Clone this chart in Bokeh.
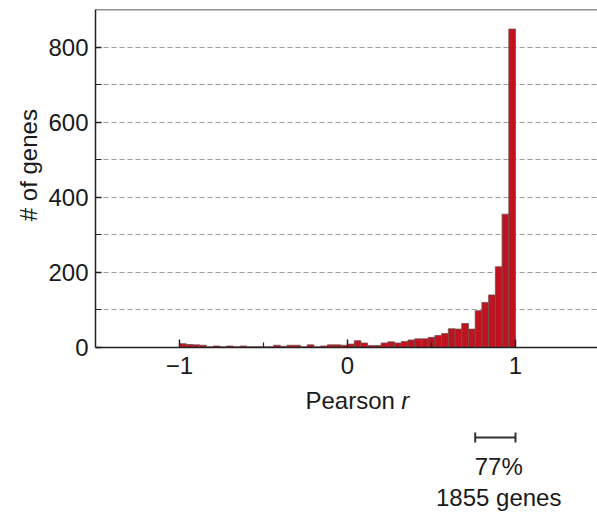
from bokeh.plotting import figure
from bokeh.layouts import column
from bokeh.models import FixedTicker, Range1d, Span, Arrow, TeeHead, ColumnDataSource
from bokeh.core.properties import value
from bokeh.embed import file_html
from bokeh.resources import INLINE

# Histogram of per-gene Pearson correlations: 50 bins of width 0.04 from -1 to 1
bin_start = -1.0
bin_width = 0.04
counts = [
    10, 8, 7, 6, 2, 4, 2, 4, 2, 4, 2, 2, 2, 2, 6, 3, 6, 6, 2, 7, 2, 4, 7, 7, 6,
    9, 18, 12, 5, 5, 12, 15, 12, 16, 20, 23, 23, 27, 32, 37, 50, 49, 64, 49,
    98, 120, 140, 215, 355, 848,
]

# Axis ticks
x_major = [-1, 0, 1]
x_minor = [-0.5, 0.5]
y_major = [0, 200, 400, 600, 800]
y_minor = [100, 300, 500, 700]
grid_lines = [100, 200, 300, 400, 500, 600, 700, 800]

# Highly correlated bracket
bracket_range = [0.76, 1.0]
bracket_pct = "77%"
bracket_genes = "1855 genes"

left_edges = [bin_start + i * bin_width for i in range(len(counts))]
right_edges = [e + bin_width for e in left_edges]
src = ColumnDataSource(dict(left=left_edges, right=right_edges, top=counts))

FONT = "Liberation Sans"
INK = "#1a1a1a"
FS = "24px"

TOP_H = 387
BOTTOM_H = 516 - TOP_H

p = figure(
    width=597, height=TOP_H,
    x_range=Range1d(-1.5, 1.488), y_range=Range1d(0, 900),
    output_backend="svg", toolbar_location=None,
    min_border_left=95, min_border_right=0, min_border_top=9, min_border_bottom=TOP_H - 347,
)
p.outline_line_color = None

p.quad(left="left", right="right", bottom=0, top="top", source=src,
       fill_color="#c1121f", line_color="#6e5050", line_width=0.8)

# Grid
p.xgrid.visible = False
p.ygrid.ticker = FixedTicker(ticks=grid_lines)
p.ygrid.grid_line_color = "#9a9a9a"
p.ygrid.grid_line_dash = "5 3"
p.ygrid.grid_line_width = 1

# Axes
for ax in (p.xaxis[0], p.yaxis[0]):
    ax.axis_line_color = "#222222"
    ax.axis_line_width = 1.5
    ax.major_tick_line_color = "#222222"
    ax.minor_tick_line_color = "#222222"
    ax.major_tick_line_width = 1.5
    ax.minor_tick_line_width = 1.2
    ax.major_tick_out = 0
    ax.minor_tick_out = 0
    ax.major_label_text_font = FONT
    ax.major_label_text_font_size = FS
    ax.major_label_text_color = INK

p.xaxis.ticker = FixedTicker(ticks=x_major, minor_ticks=x_minor)
p.xaxis.major_label_overrides = {-1: "\u22121"}
p.xaxis.major_tick_in = 8
p.xaxis.minor_tick_in = 5
p.xaxis.major_label_standoff = 9

p.yaxis.ticker = FixedTicker(ticks=y_major, minor_ticks=y_minor)
p.yaxis.major_tick_in = 6
p.yaxis.minor_tick_in = 6
p.yaxis.major_label_standoff = 7
# leading non-breaking spaces nudge the rotated title upward
p.yaxis.axis_label = "\u00a0\u00a0\u00a0\u00a0# of genes"
p.yaxis.axis_label_text_font = FONT
p.yaxis.axis_label_text_font_size = FS
p.yaxis.axis_label_text_font_style = "normal"
p.yaxis.axis_label_text_color = INK
p.yaxis.axis_label_standoff = 3

# Top border of the frame
p.add_layout(Span(location=900, dimension="width", line_color="#222222", line_width=1.5))

# Lower panel: x-axis title and the bracket summary, sharing the x scale
q = figure(
    width=597, height=BOTTOM_H,
    x_range=p.x_range, y_range=Range1d(BOTTOM_H, 0),
    x_axis_type=None, y_axis_type=None,
    output_backend="svg", toolbar_location=None,
    min_border_left=95, min_border_right=0, min_border_top=0, min_border_bottom=0,
)
q.outline_line_color = None
q.grid.visible = False

SHIFT = 8  # baseline correction for the alphabetic text anchor
text_style = dict(text_font=value(FONT), text_font_size=value(FS), text_color=INK,
                  text_baseline="alphabetic")
q.text(x=[-0.25], y=[408 - TOP_H - SHIFT], text=["Pearson"], text_align="left", **text_style)
q.text(x=[0.32], y=[408 - TOP_H - SHIFT], text=["r"], text_align="left",
       text_font_style="italic", **text_style)

q.add_layout(Arrow(x_start=bracket_range[0], x_end=bracket_range[1],
                   y_start=437 - TOP_H, y_end=437 - TOP_H,
                   start=TeeHead(size=10, line_color="#333333", line_width=2),
                   end=TeeHead(size=10, line_color="#333333", line_width=2),
                   line_color="#333333", line_width=2))
mid = (bracket_range[0] + bracket_range[1]) / 2 + 0.02
q.text(x=[mid], y=[474 - TOP_H - SHIFT], text=[bracket_pct], text_align="center", **text_style)
q.text(x=[mid], y=[505 - TOP_H - SHIFT], text=[bracket_genes], text_align="center", **text_style)

layout = column(p, q, spacing=0)
open("out.html", "w").write(file_html(layout, INLINE))
